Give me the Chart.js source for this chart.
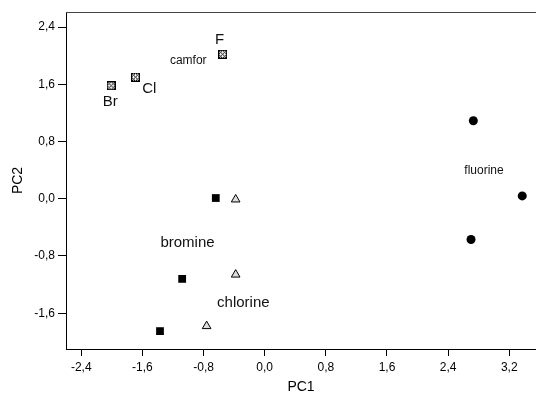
<!DOCTYPE html>
<html>
<head>
<meta charset="utf-8">
<script src="https://cdn.jsdelivr.net/npm/chart.js@4/dist/chart.umd.min.js"></script>
<style>
  html, body { margin: 0; padding: 0; background: #fff; }
  canvas { display: block; }
</style>
</head>
<body>
<canvas id="pca" width="536" height="396"></canvas>
<script>
"use strict";

// scores (PC1, PC2)
const CAMFOR_X = [-2.01, -1.69, -0.55];
const CAMFOR_Y = [1.58, 1.70, 2.02];
const BROMINE_X = [-0.64, -1.08, -1.37];
const BROMINE_Y = [0.01, -1.12, -1.85];
const CHLORINE_X = [-0.38, -0.38, -0.76];
const CHLORINE_Y = [-0.01, -1.06, -1.78];
const FLUORINE_X = [2.73, 3.37, 2.70];
const FLUORINE_Y = [1.09, 0.04, -0.57];

const X_TICKS = [-2.4, -1.6, -0.8, 0.0, 0.8, 1.6, 2.4, 3.2];
const Y_TICKS = [-1.6, -0.8, 0.0, 0.8, 1.6, 2.4];

// text notes in data units
const NOTE_TEXT = ["Br", "Cl", "F", "camfor", "bromine", "chlorine", "fluorine"];
const NOTE_X = [-2.02, -1.51, -0.59, -1.00, -1.01, -0.28, 2.87];
const NOTE_Y = [1.35, 1.53, 2.22, 1.93, -0.62, -1.46, 0.39];

const SMALL_NOTES = new Set(["camfor", "fluorine"]);
const FONT = "'Liberation Sans', Arial, sans-serif";

function pts(xs, ys) {
  return xs.map((x, i) => ({ x, y: ys[i] }));
}

// crossed, dotted box used for the camfor points
function hatchMarker() {
  const n = 9;
  const c = document.createElement("canvas");
  c.width = n; c.height = n;
  const g = c.getContext("2d");
  g.fillStyle = "#000";
  for (let i = 0; i < n; i++) {
    for (let j = 0; j < n; j++) {
      const even = (i + j) % 2 === 0;
      const diag = i === j || i + j === n - 1;
      const edge = i === 0 || j === 0 || i === n - 1 || j === n - 1;
      if (diag || edge || even) g.fillRect(i, j, 1, 1);
    }
  }
  g.clearRect(2, 4, 1, 1); g.clearRect(6, 4, 1, 1);
  g.clearRect(4, 2, 1, 1); g.clearRect(4, 6, 1, 1);
  return c;
}

const frameTop = {
  id: "frameTop",
  afterDraw(chart) {
    const { ctx, chartArea } = chart;
    ctx.save();
    ctx.strokeStyle = "#444";
    ctx.lineWidth = 1;
    ctx.beginPath();
    ctx.moveTo(chartArea.left, chartArea.top + 0.5);
    ctx.lineTo(chartArea.right, chartArea.top + 0.5);
    ctx.stroke();
    ctx.restore();
  },
};

const notes = {
  id: "notes",
  afterDatasetsDraw(chart) {
    const { ctx } = chart;
    const sx = chart.scales.x, sy = chart.scales.y;
    ctx.save();
    ctx.fillStyle = "#111";
    ctx.textAlign = "center";
    ctx.textBaseline = "middle";
    NOTE_TEXT.forEach((t, i) => {
      ctx.font = (SMALL_NOTES.has(t) ? 12 : 15) + "px " + FONT;
      ctx.fillText(t, sx.getPixelForValue(NOTE_X[i]), sy.getPixelForValue(NOTE_Y[i]));
    });
    ctx.restore();
  },
};

const fmt = (v) => Number(v).toFixed(1).replace(".", ",");

new Chart(document.getElementById("pca"), {
  type: "scatter",
  data: {
    datasets: [
      {
        label: "camfor",
        data: pts(CAMFOR_X, CAMFOR_Y),
        pointStyle: hatchMarker(),
        pointRadius: 5,
      },
      {
        label: "bromine",
        data: pts(BROMINE_X, BROMINE_Y),
        pointStyle: "rect",
        pointRadius: 5.5,
        backgroundColor: "#000",
        borderColor: "#000",
        borderWidth: 0,
      },
      {
        label: "chlorine",
        data: pts(CHLORINE_X, CHLORINE_Y),
        pointStyle: "triangle",
        pointRadius: 5,
        backgroundColor: "#ddd",
        borderColor: "#000",
        borderWidth: 1,
      },
      {
        label: "fluorine",
        data: pts(FLUORINE_X, FLUORINE_Y),
        pointStyle: "circle",
        pointRadius: 4.5,
        backgroundColor: "#000",
        borderColor: "#000",
        borderWidth: 0,
      },
    ],
  },
  options: {
    responsive: false,
    animation: false,
    layout: { autoPadding: false, padding: { top: 12, right: 0, bottom: 0, left: 0 } },
    plugins: { legend: { display: false }, tooltip: { enabled: false } },
    scales: {
      x: {
        type: "linear",
        min: -2.6,
        max: 3.55,
        afterBuildTicks: (s) => { s.ticks = X_TICKS.map((v) => ({ value: v })); },
        afterFit: (s) => { s.height = 47; s.paddingLeft = 0; s.paddingRight = 0; },
        grid: { drawOnChartArea: false, tickLength: 7, tickColor: "#000" },
        border: { color: "#000", width: 1 },
        ticks: { color: "#000", padding: 4, maxRotation: 0, autoSkip: false,
                 font: { family: FONT, size: 12 }, callback: fmt },
        title: { display: true, text: "PC1", color: "#000", padding: 0,
                 font: { family: FONT, size: 14 } },
      },
      y: {
        type: "linear",
        min: -2.1,
        max: 2.61,
        afterBuildTicks: (s) => { s.ticks = Y_TICKS.map((v) => ({ value: v })); },
        afterFit: (s) => { s.width = 66; s.paddingTop = 0; s.paddingBottom = 0; },
        grid: { drawOnChartArea: false, tickLength: 8, tickColor: "#000" },
        border: { color: "#000", width: 1 },
        ticks: { color: "#000", padding: 3, autoSkip: false,
                 font: { family: FONT, size: 12 }, callback: fmt },
        title: { display: true, text: "PC2", color: "#000", padding: { top: 10, bottom: 0 },
                 font: { family: FONT, size: 14 } },
      },
    },
  },
  plugins: [frameTop, notes],
});
</script>
</body>
</html>
